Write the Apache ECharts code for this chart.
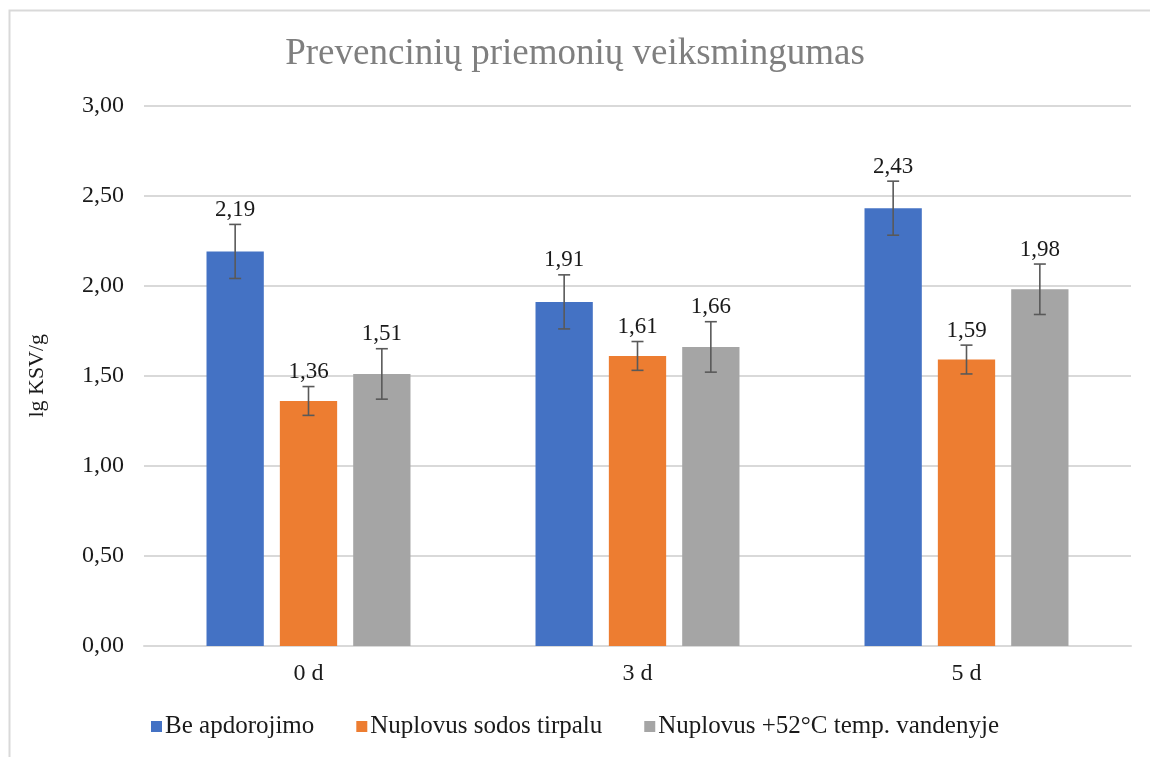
<!DOCTYPE html>
<html>
<head>
<meta charset="utf-8">
<script src="https://cdn.jsdelivr.net/npm/echarts@6/dist/echarts.min.js"></script>
<style>
  html, body { margin: 0; padding: 0; background: #fff; }
  #chart { width: 1150px; height: 757px; }
</style>
</head>
<body>
<div id="chart"></div>
<script>
// duomenys
const categories = ['0 d', '3 d', '5 d'];
const seriesNames = ['Be apdorojimo', 'Nuplovus sodos tirpalu', 'Nuplovus +52°C temp. vandenyje'];
const beApdorojimo = [2.19, 1.91, 2.43];
const sodosTirpalu = [1.36, 1.61, 1.59];
const vandenyje = [1.51, 1.66, 1.98];
const errBe = [0.15, 0.15, 0.15];
const errSodos = [0.08, 0.08, 0.08];
const errVanduo = [0.14, 0.14, 0.14];
const yTicks = [0, 0.5, 1, 1.5, 2, 2.5, 3];

const colors = ['#4472c4', '#ed7d31', '#a5a5a5'];
const values = [beApdorojimo, sodosTirpalu, vandenyje];
const errors = [errBe, errSodos, errVanduo];
const FONT = '"Liberation Serif", "Times New Roman", serif';
const CAT_GAP = 0.38, BAR_GAP = 0.28;

const fmt = v => v.toFixed(2).replace('.', ',');

const chart = echarts.init(document.getElementById('chart'));

const series = [];
values.forEach((vals, i) => {
  series.push({
    name: seriesNames[i],
    type: 'bar',
    data: vals,
    itemStyle: { color: colors[i] },
    barGap: (BAR_GAP * 100) + '%',
    barCategoryGap: (CAT_GAP * 100) + '%'
  });
});
values.forEach((vals, i) => {
  series.push({
    type: 'custom',
    name: seriesNames[i] + ' err',
    z: 10,
    silent: true,
    encode: { x: 0, y: [1, 2] },
    data: vals.map((v, k) => [k, v - errors[i][k], v + errors[i][k], v]),
    renderItem: function (params, api) {
      const band = api.size([1, 0])[0];
      const barW = band * (1 - CAT_GAP) / (3 + 2 * BAR_GAP);
      const off = (i - 1) * barW * (1 + BAR_GAP);
      const lo = api.coord([api.value(0), api.value(1)]);
      const hi = api.coord([api.value(0), api.value(2)]);
      const x = lo[0] + off;
      const cap = 6;
      const st = { stroke: '#595959', lineWidth: 1.6 };
      return {
        type: 'group',
        children: [
          { type: 'line', shape: { x1: x, y1: lo[1], x2: x, y2: hi[1] }, style: st },
          { type: 'line', shape: { x1: x - cap, y1: lo[1], x2: x + cap, y2: lo[1] }, style: st },
          { type: 'line', shape: { x1: x - cap, y1: hi[1], x2: x + cap, y2: hi[1] }, style: st },
          {
            type: 'text',
            x: x, y: hi[1] - 3,
            style: {
              text: fmt(api.value(3)),
              fontFamily: FONT, fontSize: 23, fill: '#1a1a1a',
              align: 'center', verticalAlign: 'bottom'
            }
          }
        ]
      };
    }
  });
});

chart.setOption({
  animation: false,
  backgroundColor: '#fff',
  textStyle: { fontFamily: FONT },
  graphic: [{
    type: 'rect',
    shape: { x: 9.5, y: 10.5, width: 1200, height: 800 },
    style: { fill: 'none', stroke: '#d9d9d9', lineWidth: 2 },
    silent: true
  }],
  title: {
    text: 'Prevencinių priemonių veiksmingumas',
    left: 'center',
    top: 31,
    textStyle: { fontFamily: FONT, fontSize: 37, fontWeight: 'normal', color: '#7f7f7f' }
  },
  legend: {
    data: seriesNames,
    bottom: 13,
    left: 'center',
    itemWidth: 11,
    itemHeight: 11,
    itemGap: 42,
    icon: 'rect',
    textStyle: { fontFamily: FONT, fontSize: 25, color: '#1a1a1a', padding: [0, 0, 0, -2] }
  },
  grid: { left: 144, right: 19, top: 105.5, bottom: 111, containLabel: false },
  xAxis: {
    type: 'category',
    data: categories,
    axisLine: { lineStyle: { color: '#d9d9d9', width: 2 } },
    axisTick: { show: false },
    axisLabel: { fontFamily: FONT, fontSize: 24, color: '#1a1a1a', margin: 16 }
  },
  yAxis: {
    type: 'value',
    min: yTicks[0],
    max: yTicks[yTicks.length - 1],
    interval: 0.5,
    name: 'lg KSV/g',
    nameLocation: 'middle',
    nameGap: 96,
    nameTextStyle: { fontFamily: FONT, fontSize: 22, color: '#1a1a1a' },
    axisLine: { show: false },
    axisTick: { show: false },
    splitLine: { lineStyle: { color: '#d9d9d9', width: 2 } },
    axisLabel: { fontFamily: FONT, fontSize: 24, color: '#1a1a1a', margin: 20, formatter: fmt }
  },
  series: series
});
</script>
</body>
</html>
